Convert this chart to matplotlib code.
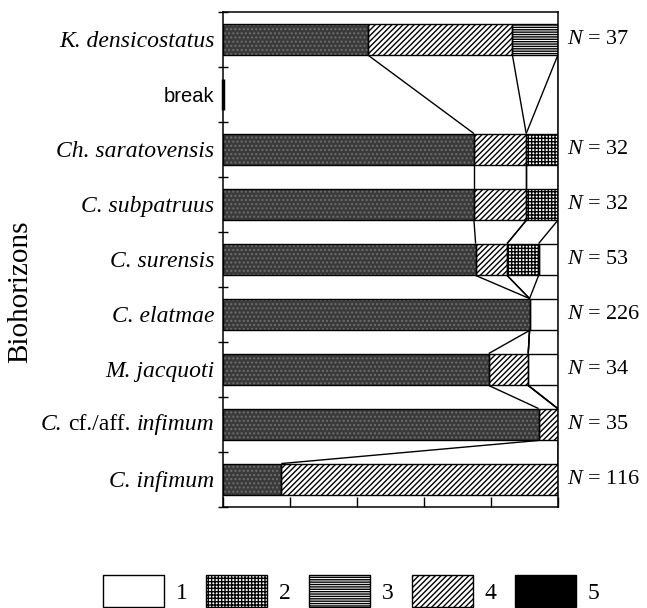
import matplotlib
matplotlib.use("Agg")
import matplotlib.pyplot as plt
from matplotlib.patches import Patch
from matplotlib.offsetbox import TextArea, HPacker, AnnotationBbox
import numpy as np

plt.rcParams['mathtext.fontset'] = 'custom'
plt.rcParams['mathtext.rm'] = 'Liberation Serif'
plt.rcParams['mathtext.it'] = 'Liberation Serif:italic'
plt.rcParams['hatch.linewidth'] = 1.0

# ---- data (percent of specimens in each morphotype group) ----
horizons = ["K. densicostatus", "break", "Ch. saratovensis", "C. subpatruus",
            "C. surensis", "C. elatmae", "M. jacquoti",
            "C. cf./aff. infimum", "C. infimum"]
n_counts = [37, None, 32, 32, 53, 226, 34, 35, 116]
# stacking order of groups from left to right: 5, 4, 3, 2, 1
group5 = [43.5, None, 75.0, 75.0, 75.5, 91.6, 79.4, 94.3, 17.5]
group4 = [43.0, None, 15.6, 15.6, 9.4, 0.0, 11.8, 5.7, 82.5]
group3 = [13.5, None, 0.0, 0.0, 0.0, 0.0, 0.0, 0.0, 0.0]
group2 = [0.0, None, 9.4, 9.4, 9.4, 0.0, 0.0, 0.0, 0.0]
group1 = [0.0, None, 0.0, 0.0, 5.7, 8.4, 8.8, 0.0, 0.0]
legend_labels = ["1", "2", "3", "4", "5"]

# ---- styles ----
stack = [group5, group4, group3, group2, group1]
fill_face = ['#3a3a3a', 'white', 'white', 'white', 'white']
fill_hatch = ['....', '//////', '-------', '+++++', None]
hatch_col = ['#6e6e6e', 'black', 'black', 'black', 'white']

fig = plt.figure(figsize=(6.47, 6.08), dpi=100)
ax = fig.add_axes([222.7/647, (608-507)/608, (557.7-222.7)/647, (507-12)/608])

nrows = len(horizons)
centres = np.arange(nrows) + 0.5
bh = 0.58

valid = [i for i in range(nrows) if group5[i] is not None]
cum = {}
for i in valid:
    left = 0.0
    edges = []
    for k, g in enumerate(stack):
        w = g[i]
        if w > 0:
            ax.barh(centres[i], w, left=left, height=bh, color=fill_face[k],
                    hatch=fill_hatch[k], edgecolor=hatch_col[k], linewidth=0, zorder=2)
            ax.barh(centres[i], w, left=left, height=bh, facecolor='none',
                    edgecolor='black', linewidth=1.0, zorder=3)
        left += w
        edges.append(min(left, 100.0))
    cum[i] = edges

# empty (break) horizon: zero-width bar marker on the axis
for i in range(nrows):
    if group5[i] is None:
        ax.plot([0, 0], [centres[i] - bh/2, centres[i] + bh/2], color='black',
                linewidth=2.5, zorder=5, clip_on=False, solid_capstyle='butt')

# connecting lines between successive horizons
for a, b in zip(valid[:-1], valid[1:]):
    for xa, xb in zip(cum[a], cum[b]):
        ax.plot([xa, xb], [centres[a] + bh/2, centres[b] - bh/2],
                color='black', linewidth=1.0, zorder=4, solid_capstyle='butt')

ax.set_xlim(0, 100)
ax.set_ylim(nrows, 0)
ax.set_xticks([0, 20, 40, 60, 80, 100])
ax.set_xticklabels([])
ax.tick_params(axis='x', direction='in', length=7, width=1.0, bottom=True, top=False)
ax.set_yticks(np.arange(nrows + 1))
ax.set_yticklabels([])
ax.tick_params(axis='y', which='major', direction='inout', length=7, width=1.0)
ax.set_yticks(centres, minor=True)
ax.set_yticklabels([("" if "cf./aff." in h else h) for h in horizons], minor=True)
ax.tick_params(axis='y', which='minor', length=0, pad=6)
for lab, name in zip(ax.get_yticklabels(minor=True), horizons):
    if name == "break":
        lab.set_fontfamily('Liberation Sans')
        lab.set_fontsize(14.5)
        lab.set_fontstyle('normal')
    else:
        lab.set_fontfamily('Liberation Serif')
        lab.set_fontsize(17)
        lab.set_fontstyle('italic')

# mixed-style label (italic names, upright "cf./aff.")
it_props = dict(family='Liberation Serif', size=17, style='italic')
rm_props = dict(family='Liberation Serif', size=17)
for i, name in enumerate(horizons):
    if "cf./aff." in name:
        genus, rest = name.split(" cf./aff. ")
        packer = HPacker(children=[TextArea(genus, textprops=it_props),
                                   TextArea("cf./aff.", textprops=rm_props),
                                   TextArea(rest, textprops=it_props)],
                         align='baseline', pad=0, sep=4.2)
        ab = AnnotationBbox(packer, (0, centres[i]), xycoords=('axes fraction', 'data'),
                            xybox=(-6, 0), boxcoords='offset points',
                            box_alignment=(1, 0.5), frameon=False, pad=0,
                            annotation_clip=False)
        ax.add_artist(ab)

for s in ax.spines.values():
    s.set_linewidth(1.1)

for i in valid:
    ax.text(1.027, 1 - centres[i] / nrows, "$N$ = %d" % n_counts[i], transform=ax.transAxes,
            ha='left', va='center', fontsize=16, fontfamily='Liberation Serif')

fig.text(20/647, 1 - 292/608, "Biohorizons", rotation=90, ha='center', va='center',
         fontsize=21, fontfamily='Liberation Serif')

leg_face = ['white', 'white', 'white', 'white', 'black']
leg_hatch = [None, '+++++', '-------', '//////', None]
handles = [Patch(facecolor=f, edgecolor='black', hatch=h, linewidth=1.0)
           for f, h in zip(leg_face, leg_hatch)]
fig.legend(handles, legend_labels, loc='center', bbox_to_anchor=(351/647, 1 - 591/608),
           ncol=5, frameon=False, prop={'family': 'Liberation Serif', 'size': 17},
           handlelength=2.58, handleheight=1.75, handletextpad=0.5, columnspacing=0.78)

fig.savefig("out.png", dpi=100)
